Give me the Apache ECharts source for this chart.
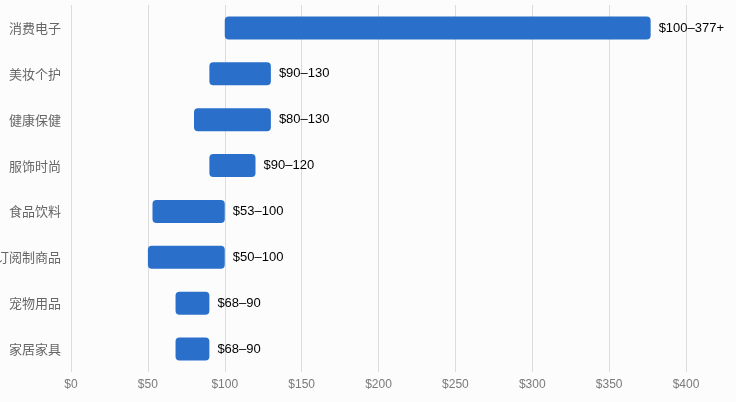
<!DOCTYPE html>
<html>
<head>
<meta charset="utf-8">
<script src="https://cdn.jsdelivr.net/npm/echarts@6/dist/echarts.min.js"></script>
<style>
    html, body { margin: 0; padding: 0; background: #fcfcfc; }
    #main { width: 736px; height: 402px; }
</style>
</head>
<body>
<div id="main"></div>
<script>
var categories = ['消费电子', '美妆个护', '健康保健', '服饰时尚', '食品饮料', '订阅制商品', '宠物用品', '家居家具'];
var lowValues = [100, 90, 80, 90, 53, 50, 68, 68];
var highValues = [377, 130, 130, 120, 100, 100, 90, 90];
var rangeLabels = ['$100–377+', '$90–130', '$80–130', '$90–120', '$53–100', '$50–100', '$68–90', '$68–90'];
var xTicks = [0, 50, 100, 150, 200, 250, 300, 350, 400];

var chart = echarts.init(document.getElementById('main'));

// 透明底座 + 区间长度，叠成浮动条
var spanValues = highValues.map(function (h, i) { return h - lowValues[i]; });

var option = {
    backgroundColor: '#fcfcfc',
    animation: false,
    textStyle: {
        fontFamily: 'Liberation Sans, "Noto Sans CJK SC", sans-serif'
    },
    grid: {
        left: 71,
        right: 50,
        top: 5,
        bottom: 30,
        containLabel: false,
        outerBoundsMode: 'none'
    },
    xAxis: {
        type: 'value',
        min: xTicks[0],
        max: xTicks[xTicks.length - 1],
        interval: 50,
        axisLine: { show: false },
        axisTick: { show: false },
        splitLine: {
            show: true,
            lineStyle: { color: '#dcdcdc', width: 1 }
        },
        axisLabel: {
            color: '#7a7a7a',
            fontSize: 12,
            margin: 7,
            formatter: function (v) { return '$' + v; }
        }
    },
    yAxis: {
        type: 'category',
        data: categories,
        inverse: true,
        axisLine: { show: false },
        axisTick: { show: false },
        splitLine: { show: false },
        axisLabel: {
            color: '#666',
            fontSize: 13,
            margin: 10,
            fontFamily: '"Noto Sans CJK SC", sans-serif'
        }
    },
    series: [{
        name: 'base',
        type: 'bar',
        stack: 'range',
        data: lowValues,
        barWidth: 23,
        itemStyle: { color: 'transparent' },
        emphasis: { disabled: true },
        silent: true
    }, {
        name: 'range',
        type: 'bar',
        stack: 'range',
        data: spanValues,
        barWidth: 23,
        itemStyle: {
            color: '#2a6fca',
            borderRadius: 4
        },
        label: {
            show: true,
            position: 'right',
            distance: 8,
            color: '#000',
            fontSize: 13,
            fontFamily: 'Liberation Sans, sans-serif',
            formatter: function (p) { return rangeLabels[p.dataIndex]; }
        }
    }]
};
chart.setOption(option);
</script>
</body>
</html>
